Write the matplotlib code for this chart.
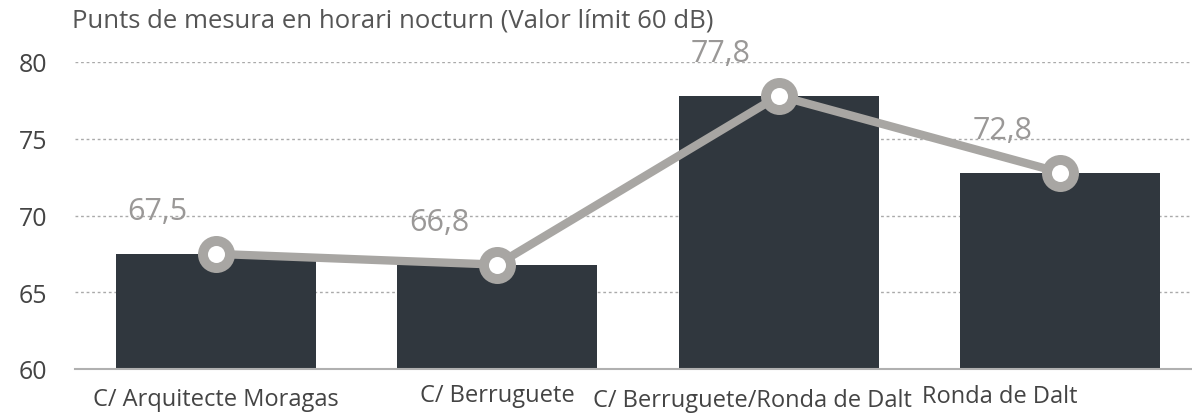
import matplotlib
matplotlib.use("Agg")
import matplotlib.pyplot as plt

categories = ["C/ Arquitecte Moragas", "C/ Berruguete", "C/ Berruguete/Ronda de Dalt", "Ronda de Dalt"]
values = [67.5, 66.8, 77.8, 72.8]
value_labels = ["67,5", "66,8", "77,8", "72,8"]
yticks = [60, 65, 70, 75, 80]
title = "Punts de mesura en horari nocturn (Valor límit 60 dB)"

plt.rcParams['font.family'] = ['Open Sans', 'DejaVu Sans']

fig = plt.figure(figsize=(11.92, 4.14), dpi=100)
ax = fig.add_axes([75/1192, 1-370/414, (1201-75)/1192, (370-63)/414])

x = list(range(len(categories)))
ax.bar(x, [v - 60 for v in values], bottom=60, width=0.71, color="#30373e", zorder=2)
ax.plot(x, values, color="#a8a6a3", lw=6, zorder=3, solid_capstyle='round')
ax.scatter(x, values, s=710, color="#a8a6a3", zorder=4, linewidths=0)
ax.scatter(x, values, s=150, color="white", zorder=5, linewidths=0)

for xi, v, lab in zip(x, values, value_labels):
    ax.annotate(lab, (xi, v), xytext=(-58, 43), textcoords="offset pixels",
                ha="center", va="center", fontsize=22, color="#9a9897",
                zorder=6, annotation_clip=False)

ax.set_xlim(-0.5, 3.5)
ax.set_ylim(60, 80)
ax.set_yticks(yticks)
ax.set_xticks(x, [""] * len(x))
for s in ["top", "right", "left"]:
    ax.spines[s].set_visible(False)
ax.spines["bottom"].set_color("#b0b0b0")
ax.spines["bottom"].set_linewidth(1.5)
ax.tick_params(axis="both", length=0, labelsize=18, labelcolor="#444444")
ax.tick_params(axis="y", pad=20)
for t in yticks[1:]:
    ax.axhline(t, color="#aaaaaa", lw=1, ls=(0, (2, 2)), zorder=1, xmax=(1190-75)/(1201-75))

label_dx = [0, 0, -26, -61]
label_dy = [-36, -32, -37, -33]
for xi, cat, dx, dy in zip(x, categories, label_dx, label_dy):
    ax.annotate(cat, xy=(xi, 0), xycoords=("data", "axes fraction"),
                xytext=(dx, dy), textcoords="offset pixels",
                ha="center", va="baseline", fontsize=17, color="#444444",
                annotation_clip=False)

fig.text(72/1192, 1-27/414, title, fontsize=18.5, color="#555555", va="baseline", ha="left")

fig.savefig("out.png", dpi=100)
